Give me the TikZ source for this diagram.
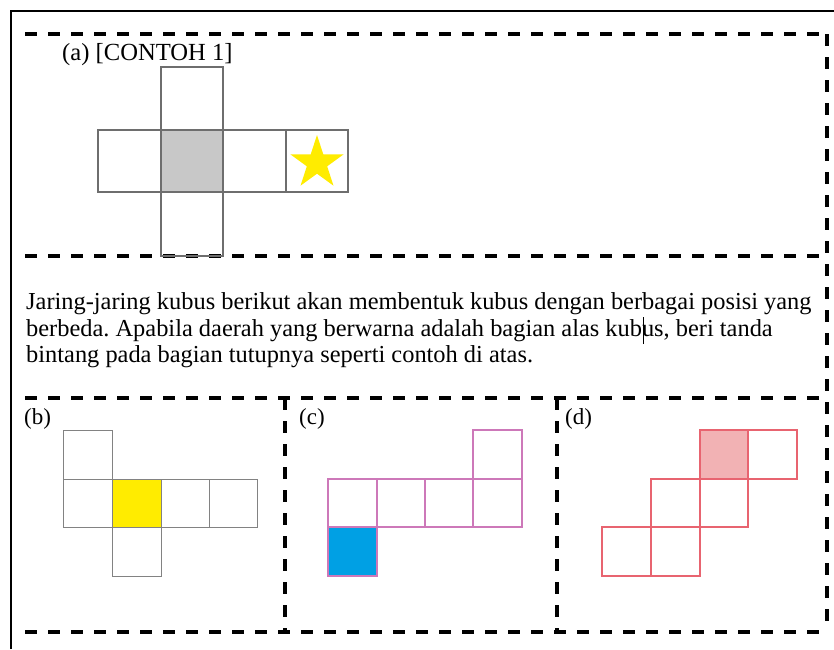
\documentclass[tikz,border=0pt]{standalone}
\usepackage{fontspec}
\setmainfont{Liberation Serif}
\usetikzlibrary{shapes.geometric}
\frenchspacing
\definecolor{netgrayA}{RGB}{110,110,110}
\definecolor{fillgray}{RGB}{200,200,200}
\definecolor{netgrayB}{RGB}{130,130,130}
\definecolor{cubeyellow}{RGB}{255,236,0}
\definecolor{netmag}{RGB}{205,120,185}
\definecolor{cubeblue}{RGB}{0,160,228}
\definecolor{netred}{RGB}{232,100,112}
\definecolor{fillpink}{RGB}{242,178,180}
\tikzset{
  dashline/.style={line width=3.8pt, dash pattern=on 12pt off 11pt},
  frameline/.style={line width=1.8pt},
  cellA/.style={draw=netgrayA, line width=1.4pt},
  cellB/.style={draw=netgrayB, line width=1pt},
  cellC/.style={draw=netmag, line width=1.2pt},
  cellD/.style={draw=netred, line width=1.2pt},
  txt/.style={inner sep=0pt, anchor=base west, font=\fontsize{24.4}{27}\selectfont},
  lbl/.style={inner sep=0pt, anchor=base west, font=\fontsize{23}{26}\selectfont}
}
\begin{document}
\begin{tikzpicture}[x=1pt,y=-1pt]
\useasboundingbox (0,0) rectangle (834,649);
\fill[white] (0,0) rectangle (834,649);
% outer solid frame
\draw[frameline] (11,649) -- (11,11) -- (834,11);
% dashed frame
\draw[dashline] (25,34) -- (827,34);
\draw[dashline] (25,256) -- (827,256);
\draw[dashline] (25,398) -- (827,398);
\draw[dashline] (25,632) -- (827,632);
\draw[dashline] (827,34) -- (827,632);
\draw[dashline] (285,398) -- (285,632);
\draw[dashline] (557,398) -- (557,632);
% (a)
\node[lbl, font=\fontsize{24.6}{27}\selectfont] (la) at (62,60) {(a) [CONTOH 1]};
\fill[fillgray] (161,130) rectangle (223,192);
\draw[cellA] (161,67) rectangle (223,130);
\draw[cellA] (161,192) rectangle (223,256);
\draw[cellA] (98,130) rectangle (348,192);
\draw[cellA] (161,130) -- (161,192);
\draw[cellA] (223,130) -- (223,192);
\draw[cellA] (286,130) -- (286,192);
\node[star, star points=5, star point ratio=2.618, fill=cubeyellow, minimum size=56pt, inner sep=0pt] (star) at (317,163) {};
% paragraph
\node[txt] (l1) at (26,309) {Jaring-jaring kubus berikut akan membentuk kubus dengan berbagai posisi yang};
\node[txt] (l2) at (26,336) {berbeda. Apabila daerah yang berwarna adalah bagian alas kub\hbox to 0pt{\kern0.5pt\vrule height 19pt depth 8pt width 0.9pt\hss}us, beri tanda};
\node[txt] (l3) at (26,362) {bintang pada bagian tutupnya seperti contoh di atas.};
% (b)
\node[lbl] (lb) at (24,424) {(b)};
\fill[cubeyellow] (112,479) rectangle (161,527);
\draw[cellB] (63,430) rectangle (112,479);
\draw[cellB] (63,479) rectangle (257,527);
\draw[cellB] (112,479) -- (112,527);
\draw[cellB] (161,479) -- (161,527);
\draw[cellB] (209,479) -- (209,527);
\draw[cellB] (112,527) rectangle (161,576);
% (c)
\node[lbl] (lc) at (299,424) {(c)};
\fill[cubeblue] (328,527) rectangle (377,576);
\draw[cellC] (328,527) rectangle (377,576);
\draw[cellC] (473,430) rectangle (522,479);
\draw[cellC] (328,479) rectangle (522,527);
\draw[cellC] (377,479) -- (377,527);
\draw[cellC] (425,479) -- (425,527);
\draw[cellC] (473,479) -- (473,527);
% (d)
\node[lbl] (ld) at (565,424) {(d)};
\fill[fillpink] (700,430) rectangle (748,479);
\draw[cellD] (700,430) rectangle (748,479);
\draw[cellD] (748,430) rectangle (797,479);
\draw[cellD] (651,479) rectangle (700,527);
\draw[cellD] (700,479) rectangle (748,527);
\draw[cellD] (602,527) rectangle (651,576);
\draw[cellD] (651,527) rectangle (700,576);
\end{tikzpicture}
\end{document}
